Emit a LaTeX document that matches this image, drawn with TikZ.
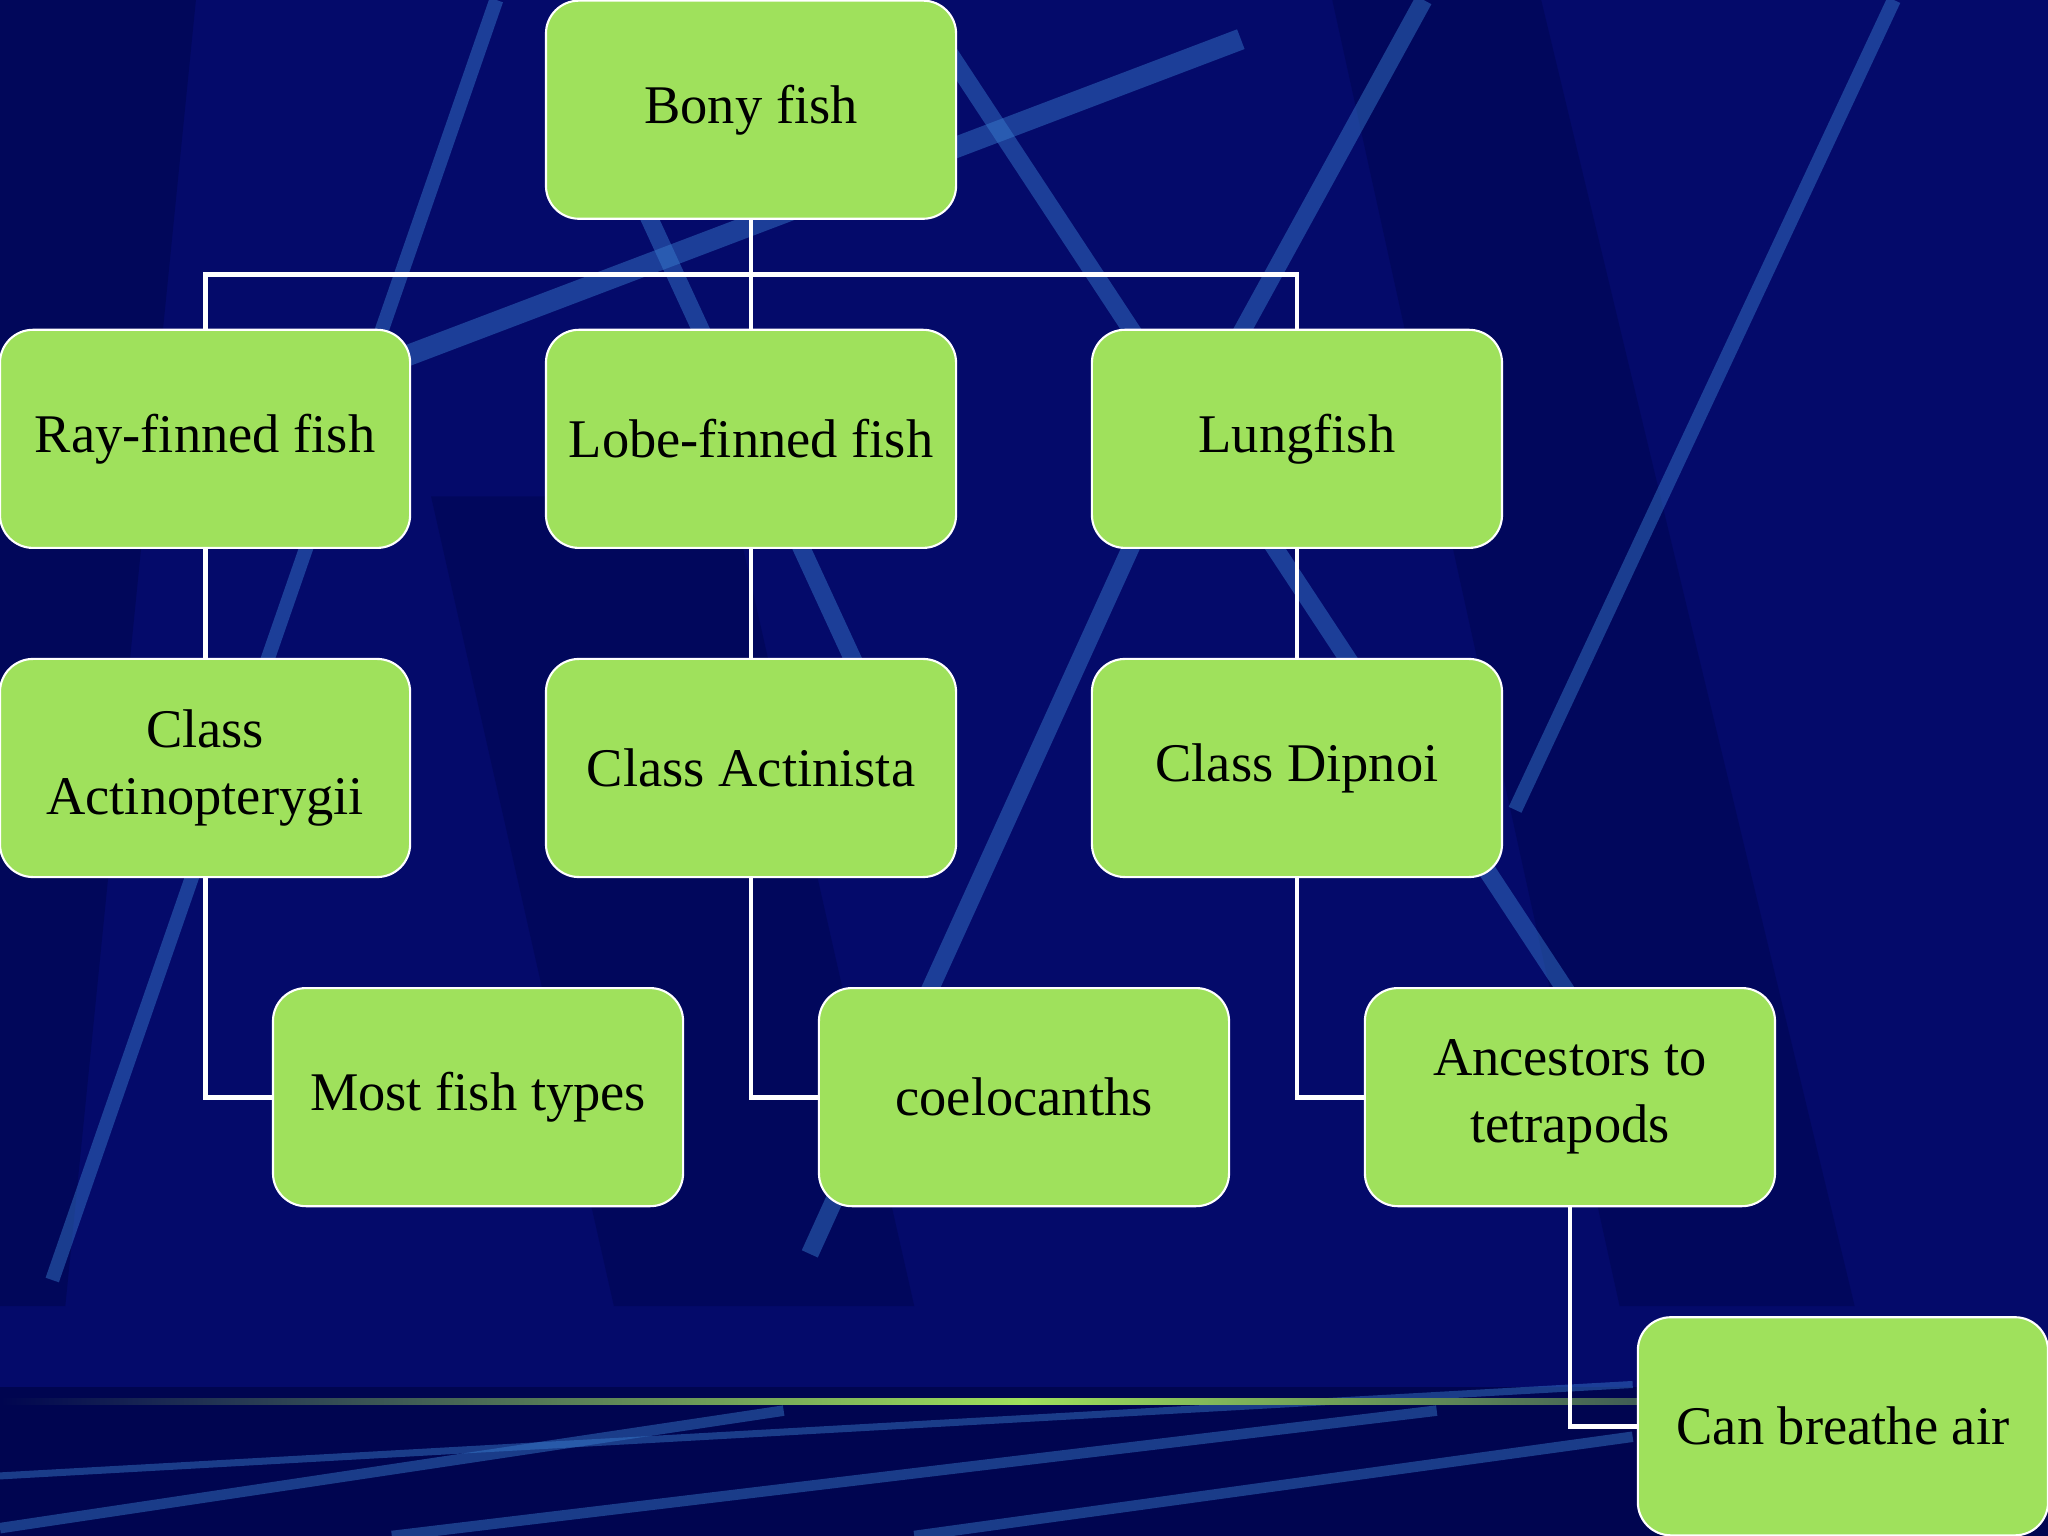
\documentclass[tikz,border=0pt]{standalone}
\usepackage{fontspec}
\setmainfont{Liberation Serif}
\begin{document}
\begin{tikzpicture}[x=0.013061cm,y=-0.013061cm,
  box/.style={draw=white,line width=0.6pt,fill=boxg,rounded corners=0.33cm,minimum width=314*0.013061cm,minimum height=167*0.013061cm,inner sep=0pt,align=center,font=\fontsize{15.5}{19}\selectfont,text=black},
  conn/.style={draw=white,line width=1.4pt},
  streak/.style={line width=#1,color=streakc,opacity=0.45}]
\definecolor{boxg}{HTML}{9FE15C}
\definecolor{bgc}{HTML}{040A6A}
\definecolor{bgd}{HTML}{000550}
\definecolor{streakc}{HTML}{3A7FD0}
\useasboundingbox (0,0) rectangle (1568,1176);
\fill[bgc] (0,0) rectangle (1568,1176);
\fill[bgd,opacity=0.6] (0,0) -- (150,0) -- (50,1000) -- (0,1000) -- cycle;
\fill[bgd,opacity=0.5] (1020,0) -- (1180,0) -- (1420,1000) -- (1240,1000) -- cycle;
\fill[bgd,opacity=0.5] (330,380) -- (560,380) -- (700,1000) -- (470,1000) -- cycle;
\fill[bgd] (0,1062) rectangle (1568,1176);
\draw[streak=6pt] (160,330) -- (950,30);
\draw[streak=5pt] (480,130) -- (660,520);
\draw[streak=5pt] (700,0) -- (1200,760);
\draw[streak=5pt] (1090,0) -- (920,310);
\draw[streak=5pt] (870,410) -- (620,960);
\draw[streak=4pt] (380,0) -- (40,980);
\draw[streak=4pt] (1450,0) -- (1160,620);
\draw[streak=3pt] (0,1170) -- (600,1080);
\draw[streak=3pt] (300,1176) -- (1100,1080);
\draw[streak=3pt] (700,1176) -- (1250,1100);
\draw[streak=2pt] (0,1130) -- (1250,1060);
\shade[left color=bgd,right color=bgd,middle color=boxg] (0,1071) rectangle (1568,1075);
\node[box] (bony) at (575,84) {Bony fish};
\node[box] (ray) at (157,336) {Ray-finned fish};
\node[box] (lobe) at (575,336) {Lobe-finned fish};
\node[box] (lung) at (993,336) {Lungfish};
\node[box] (act) at (157,588) {Class\\Actinopterygii};
\node[box] (acti) at (575,588) {Class Actinista};
\node[box] (dip) at (993,588) {Class Dipnoi};
\node[box] (most) at (366,840) {Most fish types};
\node[box] (coel) at (784,840) {coelocanths};
\node[box] (anc) at (1202,840) {Ancestors to\\tetrapods};
\node[box] (air) at (1411,1092) {Can breathe air};
\coordinate (hub) at (575,210);
\draw[conn] (bony.south) -- (hub);
\draw[conn] (ray.north) -- (157,210) -- (993,210) -- (lung.north);
\draw[conn] (hub) -- (lobe.north);
\draw[conn] (ray) -- (act);
\draw[conn] (lobe) -- (acti);
\draw[conn] (lung) -- (dip);
\draw[conn] (act.south) |- (most.west);
\draw[conn] (acti.south) |- (coel.west);
\draw[conn] (dip.south) |- (anc.west);
\draw[conn] (anc.south) |- (air.west);
\end{tikzpicture}
\end{document}
